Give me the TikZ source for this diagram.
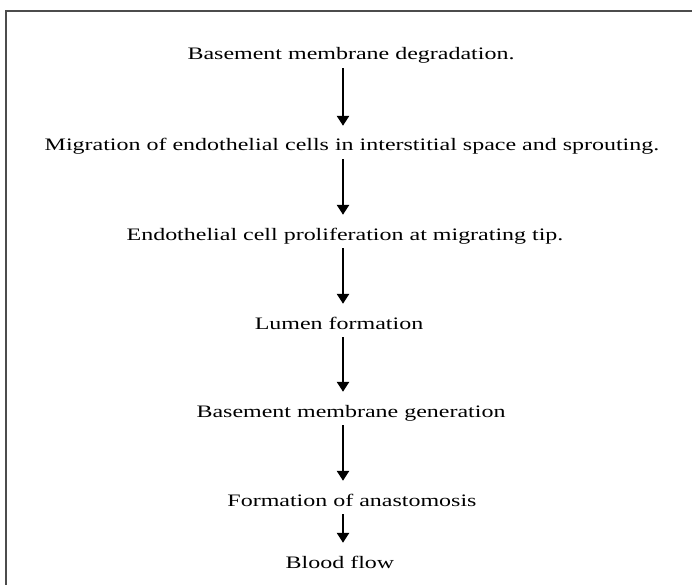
\documentclass[tikz,border=0pt]{standalone}
\usepackage{fontspec}
\setmainfont{Liberation Serif}
\usetikzlibrary{arrows.meta}
\tikzset{
  stage/.style={inner sep=0pt, anchor=base, text height=12pt, text depth=4pt, font=\fontsize{17.5}{20}\selectfont},
  flow/.style={line width=2.6pt, -{Triangle[width=12pt,length=10pt]}, shorten <=4pt, shorten >=13pt},
  frame/.style={draw=black!70, line width=1.5pt}
}
\newcommand{\wide}[1]{\scalebox{1.37}[1]{#1}}
\begin{document}
\begin{tikzpicture}[x=1pt,y=-1pt]
\useasboundingbox (0,0) rectangle (692,585);
\draw[frame] (6,585) -- (6,11) -- (692,11);
\coordinate (ax) at (343,0);
\node[stage] (s1) at (351,60) {\wide{Basement membrane degradation.}};
\node[stage] (s2) at (352,151) {\wide{Migration of endothelial cells in interstitial space and sprouting.}};
\node[stage] (s3) at (345,240) {\wide{Endothelial cell proliferation at migrating tip.}};
\node[stage] (s4) at (339,329) {\wide{Lumen formation}};
\node[stage] (s5) at (351,417) {\wide{Basement membrane generation}};
\node[stage] (s6) at (352,506) {\wide{Formation of anastomosis}};
\node[stage] (s7) at (340,568) {\wide{Blood flow}};
\draw[flow] (s1.south -| ax) -- (s2.north -| ax);
\draw[flow] (s2.south -| ax) -- (s3.north -| ax);
\draw[flow] (s3.south -| ax) -- (s4.north -| ax);
\draw[flow] (s4.south -| ax) -- (s5.north -| ax);
\draw[flow] (s5.south -| ax) -- (s6.north -| ax);
\draw[flow] (s6.south -| ax) -- (s7.north -| ax);
\end{tikzpicture}
\end{document}
